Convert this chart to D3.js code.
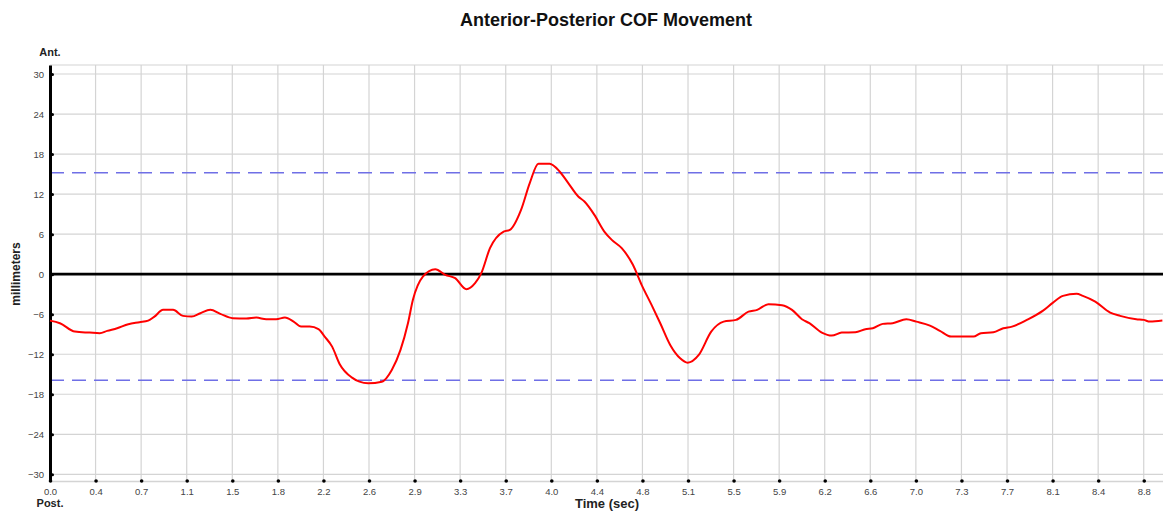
<!DOCTYPE html>
<html>
<head>
<meta charset="utf-8">
<script src="https://cdn.jsdelivr.net/npm/d3@7"></script>
<style>
  body{margin:0;background:#fff;}
  text{font-family:"Liberation Sans", Arial, sans-serif;}
</style>
</head>
<body>
<svg id="main"></svg>
<script>
//--------data----------
const timeSec = [0.00,0.08,0.20,0.32,0.40,0.46,0.54,0.63,0.72,0.79,0.84,0.91,0.99,1.07,1.14,1.21,1.29,1.37,1.47,1.58,
  1.66,1.74,1.82,1.89,1.96,2.02,2.09,2.16,2.21,2.27,2.33,2.43,2.49,2.56,2.67,2.75,2.82,2.88,2.92,3.00,
  3.10,3.18,3.26,3.35,3.42,3.47,3.54,3.65,3.70,3.79,3.86,3.93,4.02,4.10,4.17,4.25,4.30,4.38,4.46,4.52,
  4.60,4.69,4.76,4.84,4.91,4.99,5.07,5.13,5.22,5.32,5.42,5.52,5.62,5.69,5.78,5.89,5.97,6.05,6.11,6.21,
  6.29,6.37,6.48,6.56,6.62,6.70,6.78,6.89,6.97,7.08,7.16,7.25,7.43,7.49,7.59,7.67,7.74,7.86,7.99,8.07,
  8.15,8.26,8.31,8.41,8.53,8.61,8.74,8.80,8.85,8.95];
const cofMm = [-6.96,-7.35,-8.61,-8.76,-8.85,-8.50,-8.10,-7.50,-7.20,-6.96,-6.36,-5.35,-5.35,-6.25,-6.36,-5.85,-5.35,-5.95,-6.60,-6.66,
  -6.51,-6.75,-6.75,-6.51,-7.11,-7.86,-7.86,-8.25,-9.36,-10.86,-13.45,-15.51,-16.11,-16.35,-16.11,-14.35,-11.35,-7.35,-3.85,-0.36,
  0.75,-0.10,-0.60,-2.25,-1.35,0.15,3.90,6.39,6.64,9.64,13.65,16.54,16.54,15.39,13.65,11.64,10.89,8.89,6.39,5.14,
  3.90,1.40,-1.60,-4.60,-7.35,-10.60,-12.60,-13.26,-12.10,-8.61,-7.11,-6.85,-5.61,-5.35,-4.50,-4.65,-5.35,-6.75,-7.35,-8.76,
  -9.21,-8.76,-8.70,-8.25,-8.10,-7.45,-7.35,-6.75,-7.11,-7.71,-8.50,-9.36,-9.36,-8.85,-8.70,-8.10,-7.86,-6.85,-5.46,-4.26,
  -3.25,-2.95,-3.25,-4.11,-5.76,-6.25,-6.75,-6.85,-7.11,-6.96];
const limitUpper = 15.2;
const limitLower = -15.9;
const xTickLabels = ['0.0','0.4','0.7','1.1','1.5','1.8','2.2','2.6','2.9','3.3','3.7','4.0','4.4',
  '4.8','5.1','5.5','5.9','6.2','6.6','7.0','7.3','7.7','8.1','8.4','8.8'];
const xTickStep = 11/30;
const yTicks = [-30,-24,-18,-12,-6,0,6,12,18,24,30];

//--------code----------
const width = 1163, height = 511;
const svg = d3.select('#main').attr('width', width).attr('height', height);

const sx = d3.scaleLinear().domain([0, 8.955]).range([50, 1163]);
const sy = d3.scaleLinear().domain([-31.0, 31.35]).range([481, 65]);
const xTickVals = xTickLabels.map((d,i)=>i*xTickStep);
const grid = '#d4d4d4';

// gridlines
svg.append('g').selectAll('line')
  .data(yTicks.concat([sy.domain()[1]]))
  .join('line')
  .attr('x1', sx.range()[0]).attr('x2', sx.range()[1])
  .attr('y1', d=>sy(d)).attr('y2', d=>sy(d))
  .attr('stroke', grid).attr('stroke-width', 1.2);
svg.append('g').selectAll('line')
  .data(xTickVals.slice(1))
  .join('line')
  .attr('x1', d=>sx(d)).attr('x2', d=>sx(d))
  .attr('y1', sy.range()[1]).attr('y2', sy.range()[0])
  .attr('stroke', grid).attr('stroke-width', 1.2);

// bottom axis
let ax = d3.axisBottom(sx).tickValues(xTickVals).tickFormat((d,i)=>xTickLabels[i]).tickSize(0).tickPadding(7);
let gx = svg.append('g')
  .attr('transform', `translate(0,${sy.range()[0]})`)
  .call(ax);
gx.select('.domain').attr('stroke', grid).attr('stroke-width', 1.5);
gx.selectAll('text').attr('font-size', 9.5).attr('fill', '#444').attr('font-family', '"Liberation Sans", Arial, sans-serif');
gx.selectAll('.tick').append('circle').attr('r', 1.8).attr('fill', '#000');

// limit lines
svg.append('g').selectAll('line')
  .data([limitUpper, limitLower])
  .join('line')
  .attr('x1', sx.range()[0]).attr('x2', sx.range()[1])
  .attr('y1', d=>sy(d)).attr('y2', d=>sy(d))
  .attr('stroke', '#6f6fe6').attr('stroke-width', 1.5)
  .attr('stroke-dasharray', '14,8');

// zero line
svg.append('line')
  .attr('x1', sx.range()[0]).attr('x2', sx.range()[1])
  .attr('y1', sy(0)).attr('y2', sy(0))
  .attr('stroke', '#000').attr('stroke-width', 2.6);

// left axis
let ay = d3.axisLeft(sy).tickValues(yTicks).tickSize(0).tickPadding(6);
let gy = svg.append('g')
  .attr('transform', `translate(${sx.range()[0]},0)`)
  .call(ay);
gy.select('.domain').attr('stroke', '#000').attr('stroke-width', 3);
gy.selectAll('text').attr('font-size', 9.5).attr('fill', '#444').attr('font-family', '"Liberation Sans", Arial, sans-serif');
gy.selectAll('.tick').append('circle').attr('cx', 2.5).attr('r', 1.5).attr('fill', '#000');

// curve
const pts = timeSec.map((t,i)=>[t, cofMm[i]]);
svg.append('path')
  .datum(pts)
  .attr('fill', 'none')
  .attr('stroke', '#ff0000')
  .attr('stroke-width', 2)
  .attr('stroke-linejoin', 'round')
  .attr('d', d3.line().x(d=>sx(d[0])).y(d=>sy(d[1])).curve(d3.curveMonotoneX));

// labels
svg.append('text').attr('x', 606).attr('y', 26).attr('text-anchor', 'middle')
  .attr('font-size', 18).attr('font-weight', 'bold').attr('fill', '#111')
  .text('Anterior-Posterior COF Movement');
svg.append('text').attr('x', 50).attr('y', 56).attr('text-anchor', 'middle')
  .attr('font-size', 11).attr('font-weight', 'bold').attr('fill', '#222').text('Ant.');
svg.append('text').attr('x', 50).attr('y', 507).attr('text-anchor', 'middle')
  .attr('font-size', 11).attr('font-weight', 'bold').attr('fill', '#222').text('Post.');
svg.append('text').attr('x', 607).attr('y', 508).attr('text-anchor', 'middle')
  .attr('font-size', 13).attr('font-weight', 'bold').attr('fill', '#222').text('Time (sec)');
svg.append('text').attr('transform', 'translate(20,274) rotate(-90)').attr('text-anchor', 'middle')
  .attr('font-size', 12).attr('font-weight', 'bold').attr('fill', '#222').text('millimeters');
</script>
</body>
</html>
